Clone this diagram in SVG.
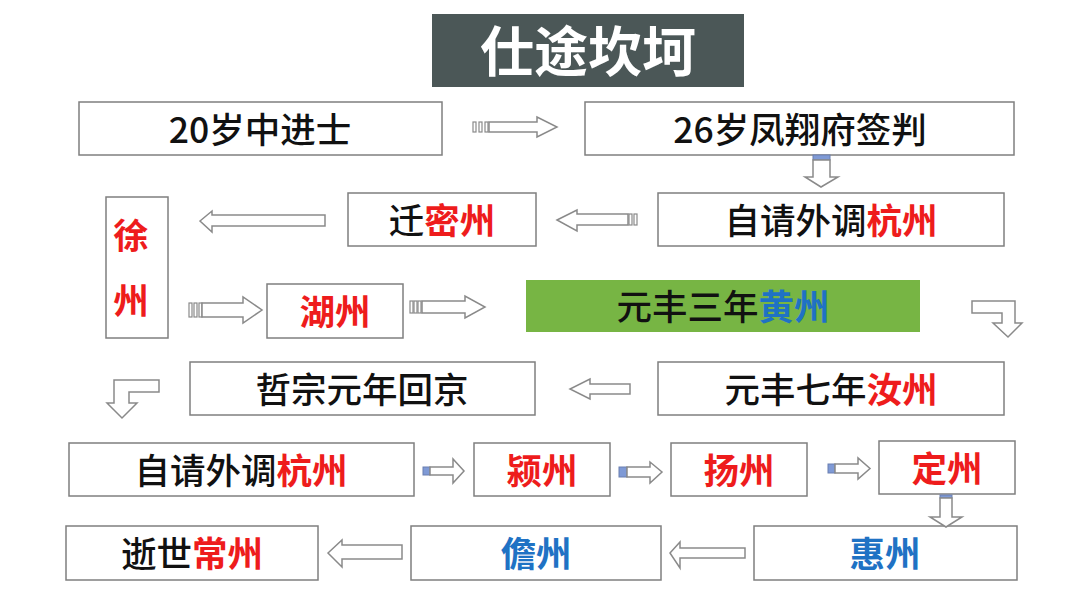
<svg xmlns="http://www.w3.org/2000/svg" width="1080" height="608" viewBox="0 0 1080 608">
<style>
.box{fill:#fff;stroke:#7f7f7f;stroke-width:1.5}
.t{font-family:"Noto Sans CJK SC","Noto Sans",sans-serif;font-size:35.5px;font-weight:500;fill:#111;text-anchor:middle}
.r{fill:#ee1c1c;font-weight:bold}
.b{fill:#1f72c4;font-weight:bold}
.arr{fill:#fff;stroke:#8a8a8a;stroke-width:1.5;stroke-linejoin:miter}
.st{fill:#fff;stroke:#8a8a8a;stroke-width:1.2}
.sb{fill:#7f9ad6;stroke:#6a7fb0;stroke-width:1}
</style>
<rect width="1080" height="608" fill="#fff"/>
<g id="title">
<rect x="432" y="14" width="312" height="73" fill="#4b5757"/>
<text x="588" y="72" style="font-family:'Noto Sans CJK SC',sans-serif;font-size:54px;font-weight:bold;fill:#fff;text-anchor:middle">仕途坎坷</text>
</g>
<g id="n1"><rect class="box" x="79" y="102" width="363" height="53"/><text class="t" x="260" y="143">20岁中进士</text></g>
<g id="n2"><rect class="box" x="585" y="102" width="429" height="53"/><text class="t" x="800" y="143">26岁凤翔府签判</text></g>
<g id="n3"><rect class="box" x="658" y="193" width="346" height="53"/><text class="t" x="831" y="234">自请外调<tspan class="r">杭州</tspan></text></g>
<g id="n4"><rect class="box" x="348" y="193" width="188" height="53"/><text class="t" x="442" y="234">迁<tspan class="r">密州</tspan></text></g>
<g id="n5"><rect class="box" x="106" y="197" width="62" height="141"/><text class="t r" x="131" y="249">徐</text><text class="t r" x="131" y="314">州</text></g>
<g id="n6"><rect class="box" x="267" y="284" width="136" height="54"/><text class="t r" x="335" y="325">湖州</text></g>
<g id="n7"><rect x="526" y="280" width="394" height="52" fill="#77b544"/><text class="t" x="723" y="320">元丰三年<tspan class="b">黄州</tspan></text></g>
<g id="n8"><rect class="box" x="658" y="362" width="346" height="53"/><text class="t" x="831" y="403">元丰七年<tspan class="r">汝州</tspan></text></g>
<g id="n9"><rect class="box" x="190" y="362" width="345" height="53"/><text class="t" x="362" y="403">哲宗元年回京</text></g>
<g id="n10"><rect class="box" x="69" y="443" width="345" height="53"/><text class="t" x="241" y="484">自请外调<tspan class="r">杭州</tspan></text></g>
<g id="n11"><rect class="box" x="474" y="443" width="136" height="53"/><text class="t r" x="542" y="484">颍州</text></g>
<g id="n12"><rect class="box" x="671" y="443" width="136" height="53"/><text class="t r" x="739" y="484">扬州</text></g>
<g id="n13"><rect class="box" x="879" y="441" width="136" height="53"/><text class="t r" x="947" y="482">定州</text></g>
<g id="n14"><rect class="box" x="754" y="526" width="263" height="54"/><text class="t b" x="885" y="567">惠州</text></g>
<g id="n15"><rect class="box" x="411" y="526" width="250" height="54"/><text class="t b" x="536" y="567">儋州</text></g>
<g id="n16"><rect class="box" x="66" y="526" width="252" height="54"/><text class="t" x="192" y="567">逝世<tspan class="r">常州</tspan></text></g>
<g id="connectors">
<rect class="st" x="473" y="122" width="3" height="10"/><rect class="st" x="479" y="122" width="3" height="10"/><rect class="st" x="485" y="122" width="3" height="10"/>
<path class="arr" d="M489,122 H537 V117 L557,127 L537,137 V132 H489 Z"/>
<rect class="sb" x="813" y="155" width="17" height="5"/>
<path class="arr" d="M813,160 V177 H805 L821,187 L838,177 H830 V160 Z"/>
<rect class="st" x="629" y="214" width="3" height="11"/><rect class="st" x="634" y="214" width="3" height="11"/>
<path class="arr" d="M557,220 L577,210 V214 H628 V225 H577 V231 Z"/>
<path class="arr" d="M200,221 L212,211 V215 H325 V226 H212 V232 Z"/>
<rect class="st" x="189" y="303" width="3" height="14"/><rect class="st" x="194" y="303" width="3" height="14"/><rect class="st" x="199" y="303" width="3" height="14"/>
<path class="arr" d="M202,303 H243 V297 L262,310 L243,323 V317 H202 Z"/>
<rect class="st" x="410" y="301" width="3" height="12"/><rect class="st" x="414" y="301" width="3" height="12"/><rect class="st" x="418" y="301" width="3" height="12"/>
<path class="arr" d="M422,301 H465 V296 L485,307 L465,318 V313 H422 Z"/>
<path class="arr" d="M972,301 H1015 V323 H1022 L1008,337 L993,323 H1002 V313 H972 Z"/>
<path class="arr" d="M159,380 V392 H129 V403 H137 L122,418 L107,403 H114 V380 Z"/>
<path class="arr" d="M630,384 H590 V379 L570,389 L590,399 V394 H630 Z"/>
<rect class="sb" x="423" y="467" width="7" height="8"/>
<path class="arr" d="M430,467 H453 V459 L464,471 L453,483 V475 H430 Z"/>
<rect class="sb" x="619" y="467" width="8" height="10"/>
<path class="arr" d="M627,467 H650 V462 L662,472 L650,483 V477 H627 Z"/>
<rect class="sb" x="828" y="464" width="7" height="9"/>
<path class="arr" d="M835,464 H858 V458 L870,468.5 L858,479 V473 H835 Z"/>
<rect class="sb" x="940" y="495" width="12" height="3"/>
<path class="arr" d="M940,498 V517 H930 L946,527 L962,517 H952 V498 Z"/>
<path class="arr" d="M670,553 L680,542 V548 H745 V558 H680 V568 Z"/>
<path class="arr" d="M328,553 L342,540 V545 H402 V559 H342 V567 Z"/>
</g>
</svg>
